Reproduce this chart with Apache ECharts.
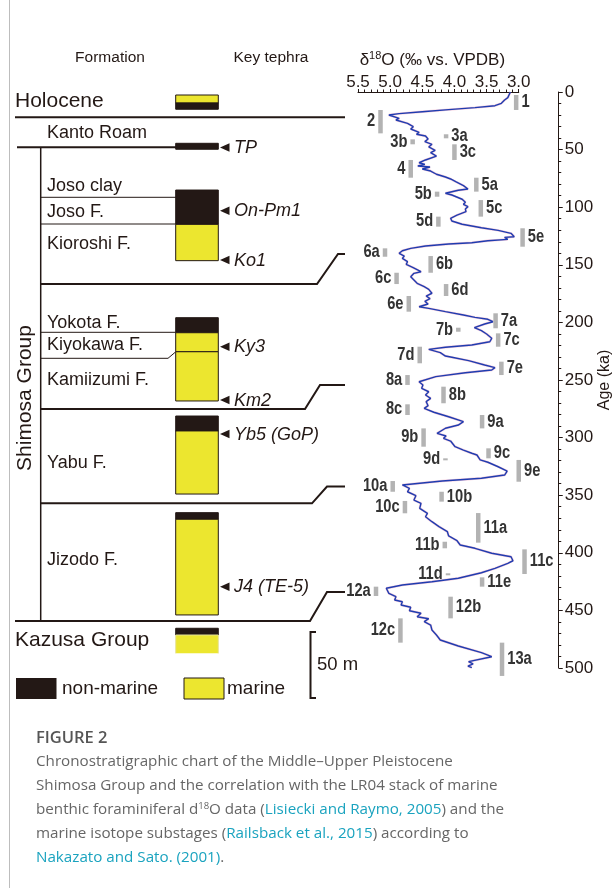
<!DOCTYPE html>
<html>
<head>
<meta charset="utf-8">
<script src="https://cdn.jsdelivr.net/npm/echarts@6/dist/echarts.min.js"></script>
<style>
  html, body { margin: 0; padding: 0; background: #fff; }
  #chart { width: 614px; height: 888px; }
</style>
</head>
<body>
<div id="chart"></div>
<script>
// ---- LR04 benthic d18O stack, 0-500 ka ----
const ageKa = [0, 4.9, 6.9, 9.8, 11.9, 13.6, 15.3, 17.1, 18.8, 20.0,
  22.9, 24.3, 27.2, 28.6, 30.1, 32.1, 35.0, 36.7, 38.2, 40.8,
  43.1, 45.4, 47.7, 50.6, 52.7, 55.6, 59.0, 61.4, 62.8, 64.2,
  65.1, 66.8, 68.6, 71.4, 73.8, 75.5, 77.9, 79.6, 81.3, 84.2,
  85.3, 87.9, 89.4, 93.1, 95.7, 97.5, 99.5, 101.6, 103.9, 106.8,
  109.6, 112.0, 114.8, 117.8, 120.1, 122.7, 124.1, 125.6, 126.2, 127.9,
  129.1, 130.8, 131.9, 133.7, 135.7, 137.8, 140.0, 142.4, 144.4, 147.3,
  149.6, 152.2, 156.0, 157.4, 160.3, 163.2, 166.1, 169.0, 171.3, 174.7,
  177.1, 179.4, 181.7, 184.0, 186.4, 187.8, 190.7, 193.6, 195.6, 197.3,
  199.4, 201.4, 204.6, 207.2, 210.1, 213.8, 216.8, 219.6, 221.6, 223.4,
  226.3, 229.2, 230.3, 233.2, 237.0, 239.3, 241.3, 243.7, 247.1, 251.5,
  254.3, 257.2, 260.2, 263.0, 265.9, 268.8, 272.3, 274.6, 278.0, 281.9,
  286.2, 289.1, 291.9, 296.3, 298.6, 300.6, 303.0, 307.9, 310.8, 313.6,
  315.1, 319.4, 321.4, 325.3, 329.0, 332.5, 335.3, 337.7, 341.1, 344.0,
  347.0, 350.4, 354.2, 357.0, 361.4, 365.7, 368.7, 373.0, 377.3, 381.7,
  385.4, 389.5, 393.2, 396.1, 400.4, 403.4, 406.9, 409.1, 413.5, 417.3,
  422.1, 425.1, 428.0, 430.8, 435.2, 438.1, 441.0, 442.5, 445.3, 447.3,
  450.3, 452.5, 455.5, 457.2, 459.8, 462.7, 467.0, 471.4, 475.7, 480.9,
  486.7, 490.2, 491.6, 494.5, 496.5, 498.3, 499.7];
const d18O = [3.13, 3.17, 3.22, 3.27, 3.37, 3.68, 4.09, 4.50, 4.86, 5.02,
  4.86, 4.91, 4.73, 4.76, 4.64, 4.68, 4.55, 4.59, 4.45, 4.41,
  4.46, 4.35, 4.40, 4.30, 4.37, 4.28, 4.45, 4.55, 4.46, 4.57,
  4.38, 4.50, 4.37, 4.28, 4.14, 4.06, 3.98, 4.00, 3.86, 3.79,
  3.94, 4.14, 4.04, 3.88, 3.83, 3.86, 3.79, 3.83, 3.82, 3.96,
  4.06, 4.04, 3.88, 3.58, 3.32, 3.12, 3.12, 3.07, 3.22, 3.17,
  3.48, 3.73, 4.09, 4.45, 4.68, 4.81, 4.86, 4.78, 4.81, 4.73,
  4.75, 4.65, 4.52, 4.63, 4.68, 4.63, 4.58, 4.47, 4.40, 4.35,
  4.44, 4.38, 4.46, 4.41, 4.55, 4.40, 4.14, 3.86, 3.68, 3.48,
  3.40, 3.53, 3.69, 3.58, 3.50, 3.42, 3.45, 3.73, 4.14, 4.40,
  4.22, 4.14, 4.04, 3.78, 3.53, 3.37, 3.42, 3.83, 4.29, 4.55,
  4.49, 4.51, 4.40, 4.45, 4.37, 4.44, 4.41, 4.47, 4.32, 4.09,
  3.86, 3.94, 4.14, 4.27, 4.13, 4.17, 4.06, 3.99, 3.86, 3.73,
  3.65, 3.60, 3.48, 3.32, 3.18, 3.22, 3.58, 4.19, 4.81, 4.70,
  4.73, 4.60, 4.63, 4.52, 4.54, 4.42, 4.45, 4.35, 4.24, 4.11,
  4.09, 3.96, 3.91, 3.68, 3.42, 3.12, 3.09, 3.17, 3.37, 3.58,
  3.94, 4.35, 4.81, 5.06, 5.02, 4.91, 4.93, 4.81, 4.83, 4.68,
  4.70, 4.52, 4.58, 4.40, 4.47, 4.37, 4.35, 4.28, 4.22, 3.94,
  3.58, 3.42, 3.45, 3.78, 3.71, 3.79, 3.73];

// ---- Marine isotope (sub)stages: name, d18O position, age span (ka), label side ----
const misNames = ['1', '2', '3a', '3b', '3c', '4', '5a', '5b', '5c', '5d', '5e',
  '6a', '6b', '6c', '6d', '6e', '7a', '7b', '7c', '7d', '7e',
  '8a', '8b', '8c', '9a', '9b', '9c', '9d', '9e', '10a', '10b', '10c',
  '11a', '11b', '11c', '11d', '11e', '12a', '12b', '12c', '13a'];
const misD18O = [3.04, 5.15, 4.13, 4.65, 4.00, 4.68, 3.66, 4.27, 3.59, 4.25, 2.94,
  5.08, 4.37, 4.90, 4.13, 4.71, 3.36, 3.94, 3.32, 4.54, 3.27,
  4.73, 4.17, 4.73, 3.57, 4.48, 3.47, 4.14, 3.00, 4.96, 4.20, 4.77,
  3.63, 4.15, 2.91, 4.10, 3.57, 5.22, 4.06, 4.84, 3.26];
const misAgeTop = [2.6, 15.6, 36.7, 41.1, 45.4, 59.0, 74.4, 86.5, 93.8, 108.2, 118.3,
  135.7, 142.4, 156.9, 166.7, 177.1, 192.1, 204.6, 209.5, 221.1, 234.1,
  245.7, 255.8, 271.1, 280.4, 292.0, 309.3, 318.0, 319.4, 337.7, 347.0, 355.0,
  365.5, 390.4, 397.0, 417.8, 421.3, 429.4, 438.1, 456.9, 478.0];
const misAgeBase = [15.6, 35.9, 40.2, 45.4, 59.0, 74.4, 86.5, 90.9, 108.2, 116.9, 134.3,
  143.0, 156.9, 166.7, 177.1, 190.7, 205.1, 208.1, 221.1, 235.5, 245.7,
  254.3, 270.2, 280.4, 292.0, 307.9, 318.0, 319.7, 338.3, 347.0, 355.6, 365.7,
  391.2, 396.1, 418.4, 419.5, 429.4, 437.5, 456.9, 478.0, 506.9];
const misSide = ['R', 'L', 'R', 'L', 'R', 'L', 'R', 'L', 'R', 'L', 'R',
  'L', 'R', 'L', 'R', 'L', 'R', 'L', 'R', 'L', 'R',
  'L', 'R', 'L', 'R', 'L', 'R', 'L', 'R', 'L', 'R', 'L',
  'R', 'L', 'R', 'L', 'R', 'L', 'R', 'L', 'R'];

// ---- Stratigraphic column (depth below top of column, m) ----
const unitTopM  = [0, 6.1, 36.6, 72.0, 98.0, 168.7, 180.1, 194.5, 243.2, 254.5, 316.4, 321.4, 404.0, 409.1];
const unitBaseM = [6.1, 10.8, 41.1, 98.0, 125.5, 180.1, 194.5, 231.8, 254.5, 302.3, 321.4, 393.9, 409.1, 423.0];
const unitFacies = ['marine', 'non-marine', 'non-marine', 'non-marine', 'marine', 'non-marine', 'marine', 'marine',
  'non-marine', 'marine', 'non-marine', 'marine', 'non-marine', 'marine'];
const unitOpenBase = [false, false, false, false, false, false, false, false, false, false, false, false, false, true];

const formationNames = ['Kanto Roam', 'Joso clay', 'Joso F.', 'Kioroshi F.', 'Yokota F.', 'Kiyokawa F.',
  'Kamiizumi F.', 'Yabu F.', 'Jizodo F.'];
const tephraNames = ['TP', 'On-Pm1', 'Ko1', 'Ky3', 'Km2', 'Yb5 (GoP)', 'J4 (TE-5)'];
const scaleBarM = 50;

// ---- styling ----
const SANS = '"Liberation Sans", Arial, Helvetica, sans-serif';
const CAP = '"Open Sans", "Noto Sans", sans-serif';
const INK = '#231815';
const YELLOW = '#ece62f';
const BAR_GREY = '#b3b3b3';
const FACIES_FILL = { 'marine': YELLOW, 'non-marine': INK };

const COL_TOP = 95, PX_PER_M = 1.32, COL_MAX_M = 425;

const chart = echarts.init(document.getElementById('chart'), null, { renderer: 'canvas' });

// helpers for the annotation layer
function line(points, w) {
  return { type: 'polyline', silent: true, shape: { points: points },
    style: { stroke: INK, lineWidth: w, fill: null } };
}
function label(text, x, y, size, opts) {
  opts = opts || {};
  return { type: 'text', silent: true, x: x, y: y, rotation: opts.rotation || 0,
    style: { text: text, fill: opts.fill || INK, fontSize: size, fontFamily: opts.family || SANS,
      fontStyle: opts.italic ? 'italic' : 'normal', fontWeight: opts.weight || 'normal',
      align: opts.align || 'left', verticalAlign: 'middle' } };
}
function arrowHead(y) {
  return { type: 'polygon', silent: true, shape: { points: [[220, y], [229.5, y - 4.2], [229.5, y + 4.2]] },
    style: { fill: INK } };
}

const graphics = [];
// page frame
graphics.push({ type: 'line', silent: true, shape: { x1: 9.5, y1: 0, x2: 9.5, y2: 888 },
  style: { stroke: '#bdbdbd', lineWidth: 1 } });
// headings
graphics.push(label('Formation', 110, 58, 15.5, { align: 'center' }));
graphics.push(label('Key tephra', 271, 58, 15.5, { align: 'center' }));
graphics.push(label('Holocene', 15, 101, 21));
graphics.push(label('Kazusa Group', 15, 640, 21));
graphics.push(label('Shimosa Group', 25, 398, 21, { align: 'center', rotation: Math.PI / 2 }));

// formation names
const formationY = [133, 185.7, 212.3, 244, 323.3, 345, 380, 463.3, 560];
formationNames.forEach((n, i) => graphics.push(label(n, 47, formationY[i], 18)));

// key tephra markers
const tephraY = [147.5, 210.7, 260, 346.7, 400, 434, 586.7];
tephraNames.forEach((n, i) => {
  graphics.push(arrowHead(tephraY[i]));
  graphics.push(label(n, 234, tephraY[i] + 0.5, 18, { italic: true }));
});

// formation boundaries
graphics.push(line([[15, 117.3], [345, 117.3]], 2));
graphics.push(line([[17, 147.3], [176, 147.3]], 2));
graphics.push(line([[40.7, 147.3], [40.7, 621]], 1.5));
graphics.push(line([[40.7, 197.3], [176, 197.3]], 1));
graphics.push(line([[40.7, 224], [176, 224]], 1));
graphics.push(line([[40.7, 284], [317, 284], [338, 254], [345, 254]], 2));
graphics.push(line([[40.7, 332.3], [176, 332.3]], 1));
graphics.push(line([[40.7, 358.3], [168, 358.3], [175.5, 352]], 1));
graphics.push(line([[40.7, 409], [305, 409], [320, 385], [345, 385]], 2));
graphics.push(line([[40.7, 503.3], [312, 503.3], [327, 486.5], [345, 486.5]], 2));
graphics.push(line([[15, 621], [310, 621], [327, 592], [345, 592]], 2));

// legend
graphics.push({ type: 'rect', silent: true, shape: { x: 16, y: 678, width: 40.5, height: 21 }, style: { fill: INK } });
graphics.push(label('non-marine', 62, 689, 19));
graphics.push({ type: 'rect', silent: true, shape: { x: 184, y: 678, width: 40, height: 21 },
  style: { fill: YELLOW, stroke: INK, lineWidth: 1 } });
graphics.push(label('marine', 227, 689, 19));

// thickness scale bar
const sbTop = 632, sbLen = scaleBarM * PX_PER_M;
graphics.push(line([[316, sbTop], [310.5, sbTop], [310.5, sbTop + sbLen], [316, sbTop + sbLen]], 2));
graphics.push(label(scaleBarM + ' m', 317, 665, 18.5));

// caption
graphics.push(label('FIGURE 2', 36, 738, 16.5, { family: CAP, fill: '#555555', weight: 600 }));
const captionLines = [
  'Chronostratigraphic chart of the Middle\u2013Upper Pleistocene',
  'Shimosa Group and the correlation with the LR04 stack of marine',
  'benthic foraminiferal d{sup|18}O data ({link|Lisiecki and Raymo, 2005}) and the',
  'marine isotope substages ({link|Railsback et al., 2015}) according to',
  '{link|Nakazato and Sato. (2001)}.'
];
graphics.push({ type: 'text', silent: true, x: 36, y: 750,
  style: { text: captionLines.join('\n'), fill: '#666666', fontSize: 15.2, fontFamily: CAP,
    lineHeight: 24, align: 'left', verticalAlign: 'top',
    rich: {
      link: { fill: '#1aa3bf', fontSize: 15.2, fontFamily: CAP, lineHeight: 24 },
      sup: { fill: '#666666', fontSize: 9.5, fontFamily: CAP, verticalAlign: 'top', padding: [3, 0, 0, 0] }
    } } });

// ---- series data ----
const curveData = ageKa.map((a, i) => [d18O[i], a]);
const misData = misNames.map((n, i) => [misD18O[i], misAgeTop[i], misAgeBase[i], i]);
const unitData = unitTopM.map((t, i) => [unitTopM[i], unitBaseM[i], i]);

const option = {
  animation: false,
  backgroundColor: '#ffffff',
  grid: [
    { left: 358, right: 93, top: 92, bottom: 220 },
    { left: 175.7, width: 42.6, top: COL_TOP, height: COL_MAX_M * PX_PER_M }
  ],
  xAxis: [
    {
      gridIndex: 0, type: 'value', position: 'top', inverse: true,
      min: 3.0, max: 5.5, interval: 0.5,
      name: '{n|\u03b4}{s|18}{n|O (\u2030 vs. VPDB)}', nameLocation: 'middle', nameGap: 20,
      nameTextStyle: { padding: [0, 12, 0, 0], rich: {
        n: { fontSize: 17, fontFamily: SANS, color: INK },
        s: { fontSize: 11, fontFamily: SANS, color: INK, padding: [0, 0, 9, 0] }
      } },
      axisLine: { show: true, lineStyle: { color: INK, width: 1 } },
      axisTick: { show: true, length: 3, lineStyle: { color: INK } },
      minorTick: { show: true, splitNumber: 5, length: 2.5, lineStyle: { color: INK } },
      axisLabel: { fontSize: 17, fontFamily: SANS, color: INK, margin: 1,
        formatter: v => v.toFixed(1) },
      splitLine: { show: false }
    },
    { gridIndex: 1, type: 'value', min: 0, max: 1, show: false }
  ],
  yAxis: [
    {
      gridIndex: 0, type: 'value', position: 'right', offset: 40, inverse: true,
      min: 0, max: 500, interval: 50,
      name: 'Age (ka)', nameLocation: 'middle', nameGap: 34, nameRotate: 90,
      nameTextStyle: { fontSize: 16, fontFamily: SANS, color: INK },
      axisLine: { show: true, lineStyle: { color: INK, width: 1 } },
      axisTick: { show: true, length: 4, lineStyle: { color: INK } },
      minorTick: { show: true, splitNumber: 5, length: 2.5, lineStyle: { color: INK } },
      axisLabel: { fontSize: 17, fontFamily: SANS, color: INK, margin: 6 },
      splitLine: { show: false }
    },
    { gridIndex: 1, type: 'value', min: 0, max: COL_MAX_M, inverse: true, show: false }
  ],
  series: [
    {
      type: 'line', xAxisIndex: 0, yAxisIndex: 0, data: curveData, showSymbol: false,
      lineStyle: { color: '#e2709a', width: 2.4, opacity: 0.35 }, silent: true, z: 2
    },
    {
      type: 'line', xAxisIndex: 0, yAxisIndex: 0, data: curveData, showSymbol: false,
      lineStyle: { color: '#1f3db0', width: 1.4 }, silent: true, z: 3
    },
    {
      type: 'custom', xAxisIndex: 0, yAxisIndex: 0, data: misData, silent: true, z: 4,
      renderItem: (params, api) => {
        const idx = api.value(3);
        const p1 = api.coord([api.value(0), api.value(1)]);
        const p2 = api.coord([api.value(0), api.value(2)]);
        const h = Math.max(p2[1] - p1[1], 2);
        const w = 4.5;
        const right = misSide[idx] === 'R';
        return { type: 'group', children: [
          { type: 'rect', shape: { x: p1[0] - w / 2, y: p1[1], width: w, height: h },
            style: { fill: BAR_GREY } },
          { type: 'text', x: right ? p1[0] + w / 2 + 3 : p1[0] - w / 2 - 3, y: p1[1] + h / 2,
            scaleX: 0.84,
            style: { text: misNames[idx], fill: '#333333', fontSize: 17.5, fontFamily: SANS,
              fontWeight: 'bold', align: right ? 'left' : 'right', verticalAlign: 'middle' } }
        ] };
      }
    },
    {
      type: 'custom', xAxisIndex: 1, yAxisIndex: 1, data: unitData, silent: true, z: 4,
      renderItem: (params, api) => {
        const idx = api.value(2);
        const a = api.coord([0, api.value(0)]);
        const b = api.coord([1, api.value(1)]);
        const fill = FACIES_FILL[unitFacies[idx]];
        if (unitOpenBase[idx]) {
          return { type: 'group', children: [
            { type: 'rect', shape: { x: a[0], y: a[1], width: b[0] - a[0], height: b[1] - a[1] },
              style: { fill: fill } },
            { type: 'polyline', shape: { points: [[a[0], b[1]], [a[0], a[1]], [b[0], a[1]], [b[0], b[1]]] },
              style: { stroke: '#e6e29a', lineWidth: 1, fill: null } }
          ] };
        }
        return { type: 'rect', shape: { x: a[0], y: a[1], width: b[0] - a[0], height: b[1] - a[1] },
          style: { fill: fill, stroke: INK, lineWidth: 1 } };
      }
    }
  ],
  graphic: { elements: graphics }
};

chart.setOption(option);
</script>
</body>
</html>
